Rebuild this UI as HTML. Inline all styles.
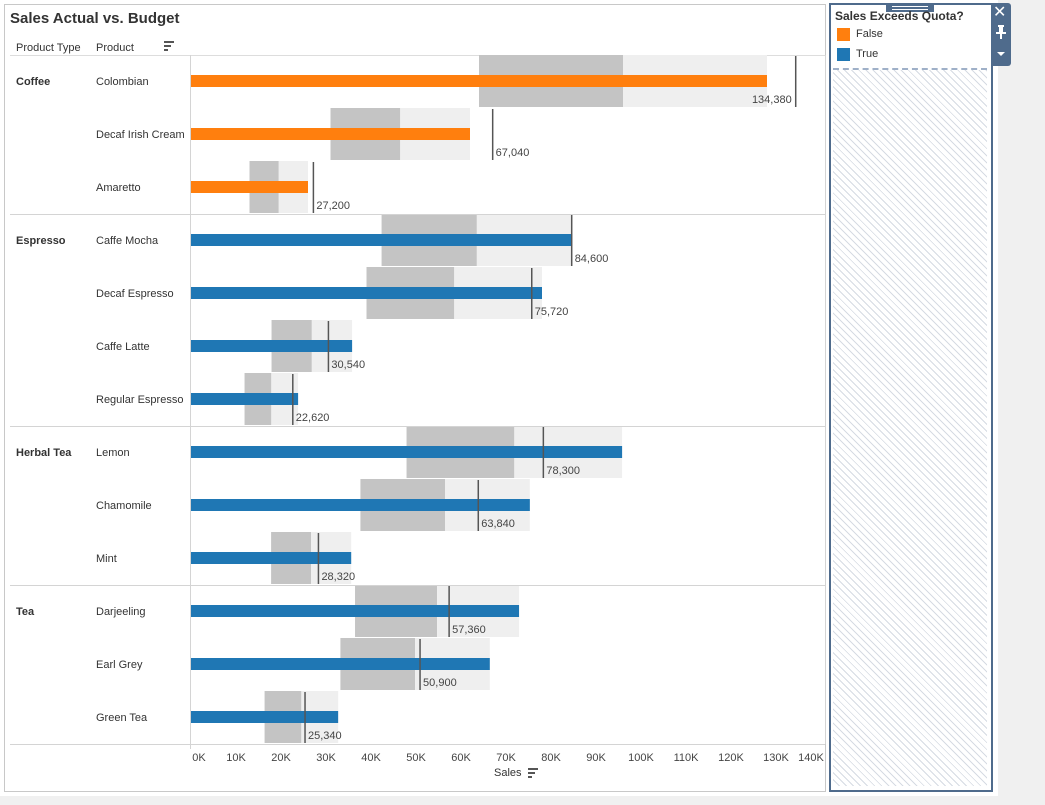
<!DOCTYPE html>
<html><head><meta charset="utf-8"><style>
body{margin:0;width:1045px;height:805px;background:#fff;position:relative;overflow:hidden;font-family:"Liberation Sans",Arial,sans-serif;}
.t{position:absolute;font-size:11px;color:#333;white-space:nowrap}
</style></head><body>
<div style="position:absolute;left:998px;top:0;width:47px;height:805px;background:#f0f0f0"></div>
<div style="position:absolute;left:0;top:796px;width:1045px;height:9px;background:#f0f0f0"></div>
<div style="position:absolute;left:4px;top:4px;width:820px;height:786px;border:1px solid #c8c8c8;background:#fff"></div>
<div class="t" style="left:10px;top:10px;font-size:15px;font-weight:bold;color:#333">Sales Actual vs. Budget</div>
<div class="t" style="left:16px;top:42px">Product Type</div>
<div class="t" style="left:96px;top:42px">Product</div>
<svg style="position:absolute;left:163px;top:40px" width="12" height="12"><rect x="1" y="1" width="10" height="2" fill="#555"/><rect x="1" y="5" width="7" height="2" fill="#555"/><rect x="1" y="9" width="4" height="2" fill="#555"/></svg>
<svg id="chart" style="position:absolute;left:0;top:0" width="828" height="792"></svg>
<div class="t" style="left:494px;top:767px">Sales</div>
<svg style="position:absolute;left:527px;top:767px" width="12" height="12"><rect x="1" y="1" width="10" height="2" fill="#555"/><rect x="1" y="5" width="7" height="2" fill="#555"/><rect x="1" y="9" width="4" height="2" fill="#555"/></svg>

<div style="position:absolute;left:829px;top:3px;width:160px;height:785px;border:2px solid #4f6b8c;background:#fff"></div>
<div style="position:absolute;left:833px;top:70px;width:154px;height:716px;background:repeating-linear-gradient(45deg,#fff 0 4px,#d6dbe3 4px 5px)"></div>
<div style="position:absolute;left:833px;top:68px;width:154px;border-top:2px dashed #9fb0c8"></div>
<div style="position:absolute;left:886px;top:4px;width:48px;height:8px;background:#4f6b8c"><div style="margin:2px 6px;border-top:1px solid #fff;border-bottom:1px solid #fff;height:2px"></div></div>
<div class="t" style="left:835px;top:9px;font-size:12px;font-weight:bold">Sales Exceeds Quota?</div>
<div style="position:absolute;left:837px;top:28px;width:13px;height:13px;background:#ff7f0e"></div>
<div class="t" style="left:856px;top:28px">False</div>
<div style="position:absolute;left:837px;top:48px;width:13px;height:13px;background:#1f77b4"></div>
<div class="t" style="left:856px;top:48px">True</div>
<div style="position:absolute;left:991px;top:3px;width:20px;height:63px;background:#4f6b8c;border-radius:0 3px 3px 0"></div>
<div class="t" style="left:993px;top:2px;color:#fff;font-size:16px">✕</div>
<svg style="position:absolute;left:995px;top:25px" width="12" height="14"><rect x="3" y="0" width="6" height="2" fill="#fff"/><rect x="4" y="2" width="4" height="5" fill="#fff"/><rect x="1" y="7" width="10" height="2" fill="#fff"/><rect x="5" y="9" width="2" height="5" fill="#fff"/></svg>
<svg style="position:absolute;left:996px;top:51px" width="10" height="6"><path d="M1 1L9 1L5 5Z" fill="#fff"/></svg>

<script>
const groups=["Coffee","Coffee","Coffee","Espresso","Espresso","Espresso","Espresso","Herbal Tea","Herbal Tea","Herbal Tea","Tea","Tea","Tea"];
const products=["Colombian","Decaf Irish Cream","Amaretto","Caffe Mocha","Decaf Espresso","Caffe Latte","Regular Espresso","Lemon","Chamomile","Mint","Darjeeling","Earl Grey","Green Tea"];
const actual=[128000,62000,26000,84700,78000,35800,23800,95800,75300,35600,72900,66400,32700];
const budget=[134380,67040,27200,84600,75720,30540,22620,78300,63840,28320,57360,50900,25340];
const ticks=[0,10000,20000,30000,40000,50000,60000,70000,80000,90000,100000,110000,120000,130000,140000];
const tickLabels=["0K","10K","20K","30K","40K","50K","60K","70K","80K","90K","100K","110K","120K","130K","140K"];

const svg=document.getElementById('chart');
const NS='http://www.w3.org/2000/svg';
const x0=191, pxPer=0.0045, top0=55, rowH=53;
const X=v=>x0+v*pxPer;
const Y=i=>top0+i*rowH;
function mk(tag,attrs){const e=document.createElementNS(NS,tag);for(const k in attrs)e.setAttribute(k,attrs[k]);svg.appendChild(e);return e;}

let hl=mk('line',{x1:10,x2:825,y1:55.5,y2:55.5,stroke:'#ddd'});



products.forEach((p,i)=>{
  const y=Y(i);
  const a=actual[i], b=budget[i];
  let r1=mk('rect',{x:X(a*0.5),y:y,width:X(a*0.75)-X(a*0.5),height:rowH-1,fill:'#c4c4c4'});
  
  
  let r2=mk('rect',{x:X(a*0.75),y:y,width:X(a)-X(a*0.75),height:rowH-1,fill:'#efefef'});
  
  
  let bar=mk('rect',{x:X(0),y:y+20,width:X(a)-X(0),height:12,fill:a>=b?'#1f77b4':'#ff7f0e'});
  
  
  let m=mk('line',{x1:X(b),x2:X(b),y1:y+1,y2:y+rowH-1,stroke:'#555','stroke-width':1.5});
  
  
  const nearEdge=X(b)+48>825;
  let lt=mk('text',{x:nearEdge?X(b)-4:X(b)+3,y:y+48,'font-size':11,fill:'#444','text-anchor':nearEdge?'end':'start','font-family':'Liberation Sans, sans-serif'});
  lt.textContent=b.toLocaleString('en-US');
  
  
  let pt=mk('text',{x:96,y:y+30,'font-size':11,fill:'#333','font-family':'Liberation Sans, sans-serif'});
  pt.textContent=p;
  
  
  if(i===0||groups[i]!==groups[i-1]){
    let gt=mk('text',{x:16,y:y+30,'font-size':11,'font-weight':'bold',fill:'#333','font-family':'Liberation Sans, sans-serif'});
    gt.textContent=groups[i];
    
    
    if(i>0){
      let s=mk('line',{x1:10,x2:825,y1:y+0.5,y2:y+0.5,stroke:'#d4d4d4'});
      
      
    }
  }
});
const yEnd=Y(products.length);
let ax=mk('line',{x1:190.5,x2:190.5,y1:55,y2:yEnd+5,stroke:'#d4d4d4'});


let rl=mk('line',{x1:825.5,x2:825.5,y1:55,y2:yEnd,stroke:'#d4d4d4'});


let bl=mk('line',{x1:10,x2:825,y1:yEnd+0.5,y2:yEnd+0.5,stroke:'#d4d4d4'});


ticks.forEach((t,k)=>{
  let cx=X(t);
  if(k===0)cx+=8;
  if(k===ticks.length-1)cx-=10;
  let tt=mk('text',{x:cx,y:yEnd+17,'font-size':11,fill:'#444','text-anchor':'middle','font-family':'Liberation Sans, sans-serif'});
  tt.textContent=tickLabels[k];
  
  
});
</script>
</body></html>
